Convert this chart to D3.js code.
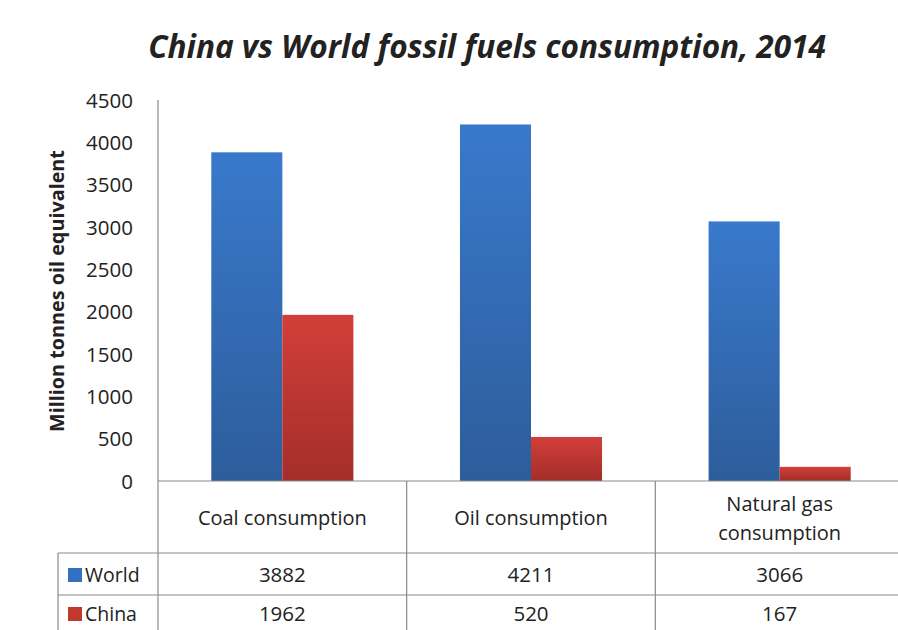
<!DOCTYPE html>
<html>
<head>
<meta charset="utf-8">
<script src="https://cdn.jsdelivr.net/npm/d3@7"></script>
<style>
  html, body { margin: 0; padding: 0; background: #fff; }
  svg { display: block; }
  text { font-family: "Open Sans", "Noto Sans", sans-serif; fill: #222; }
</style>
</head>
<body>
<svg id="chart" width="898" height="630"></svg>
<script>
// Fossil fuel consumption, 2014 (million tonnes oil equivalent)
const categories = ["Coal consumption", "Oil consumption", "Natural gas consumption"];
const categoryLines = [["Coal consumption"], ["Oil consumption"], ["Natural gas", "consumption"]];
const seriesNames = ["World", "China"];
const worldValues = [3882, 4211, 3066];
const chinaValues = [1962, 520, 167];
const yTicks = [0, 500, 1000, 1500, 2000, 2500, 3000, 3500, 4000, 4500];

const seriesValues = [worldValues, chinaValues];
const svg = d3.select("#chart");
const W = 898, H = 630;

const axisX = 158, zeroY = 481, topY = 100;
const tableLeft = 58, headerBottom = 553, rowSplit = 595;
const lineColor = "#8a8a8a";

const x = d3.scaleBand().domain(categories).range([axisX, 904]).paddingInner(0).paddingOuter(0);
const xs = d3.scaleBand().domain(seriesNames).range([0, x.bandwidth()]).paddingInner(0).paddingOuter(0.75);
const y = d3.scaleLinear().domain([0, 4500]).range([zeroY, topY]);

// Bar gradients
const defs = svg.append("defs");
const grads = [
  { id: "gWorld", top: "#3979cc", bottom: "#2d5d9b" },
  { id: "gChina", top: "#d33e39", bottom: "#a32e2a" }
];
grads.forEach(g => {
  const lg = defs.append("linearGradient").attr("id", g.id).attr("x1", 0).attr("y1", 0).attr("x2", 0).attr("y2", 1);
  lg.append("stop").attr("offset", "0%").attr("stop-color", g.top);
  lg.append("stop").attr("offset", "100%").attr("stop-color", g.bottom);
});
const fills = ["url(#gWorld)", "url(#gChina)"];
const legendFills = ["#3370bf", "#c0392f"];

// scale a text's font size so that it spans the given width
function fitWidth(sel, size, target) {
  sel.style("font-size", size + "px");
  const len = sel.node().getComputedTextLength();
  sel.style("font-size", (size * target / len).toFixed(2) + "px");
}

// Title
const title = svg.append("text")
  .attr("x", 487).attr("y", 58)
  .attr("text-anchor", "middle")
  .style("font-weight", "bold").style("font-style", "italic")
  .attr("fill", "#111")
  .text("China vs World fossil fuels consumption, 2014");
fitWidth(title, 28, 678);

// Y axis label
const yLabel = svg.append("text")
  .attr("transform", `translate(64,291) rotate(-90)`)
  .attr("text-anchor", "middle")
  .style("font-weight", "bold")
  .attr("fill", "#111")
  .text("Million tonnes oil equivalent");
fitWidth(yLabel, 16, 282);

// Y axis tick labels
const yAxis = d3.axisLeft(y).tickValues(yTicks).tickSize(0).tickPadding(0).tickFormat(d3.format("d"));
const yg = svg.append("g").attr("transform", `translate(133,0)`).call(yAxis);
yg.select(".domain").remove();
yg.selectAll("text")
  .style("font-family", "'Open Sans', sans-serif")
  .style("font-size", "20.5px").attr("fill", "#222").attr("dy", "0.35em");

// Bars
categories.forEach((c, ci) => {
  seriesNames.forEach((s, si) => {
    const v = seriesValues[si][ci];
    svg.append("rect")
      .attr("x", x(c) + xs(s))
      .attr("y", y(v))
      .attr("width", xs.bandwidth())
      .attr("height", y(0) - y(v))
      .attr("fill", fills[si]);
  });
});

// Table grid lines
const lines = svg.append("g").attr("stroke", lineColor).attr("stroke-width", 1.2);
lines.append("line").attr("x1", axisX).attr("x2", W).attr("y1", zeroY).attr("y2", zeroY);
lines.append("line").attr("x1", tableLeft).attr("x2", W).attr("y1", headerBottom).attr("y2", headerBottom);
lines.append("line").attr("x1", tableLeft).attr("x2", W).attr("y1", rowSplit).attr("y2", rowSplit);
lines.append("line").attr("x1", axisX).attr("x2", axisX).attr("y1", topY).attr("y2", H);
lines.append("line").attr("x1", tableLeft).attr("x2", tableLeft).attr("y1", headerBottom).attr("y2", H);
categories.slice(1).forEach(c => {
  lines.append("line").attr("x1", x(c)).attr("x2", x(c)).attr("y1", zeroY).attr("y2", H);
});

// Category header cells
categories.forEach((c, ci) => {
  const cx = x(c) + x.bandwidth() / 2;
  const ls = categoryLines[ci];
  const lh = 29;
  const cy = 518;
  ls.forEach((t, li) => {
    svg.append("text")
      .attr("x", cx)
      .attr("y", cy + (li - (ls.length - 1) / 2) * lh)
      .attr("dy", "0.35em")
      .attr("text-anchor", "middle")
      .style("font-size", "20px")
      .attr("fill", "#222")
      .text(t);
  });
});

// Data rows with legend keys
const rowCenters = [575, 614];
seriesNames.forEach((s, si) => {
  const cy = rowCenters[si];
  svg.append("rect")
    .attr("x", 68).attr("y", cy - 7)
    .attr("width", 14).attr("height", 14)
    .attr("fill", legendFills[si]);
  svg.append("text")
    .attr("x", 85).attr("y", cy).attr("dy", "0.35em")
    .style("font-size", "19.5px").attr("fill", "#222")
    .text(s);
  categories.forEach((c, ci) => {
    svg.append("text")
      .attr("x", x(c) + x.bandwidth() / 2)
      .attr("y", cy).attr("dy", "0.35em")
      .attr("text-anchor", "middle")
      .style("font-size", "20.5px").attr("fill", "#222")
      .text(seriesValues[si][ci]);
  });
});
</script>
</body>
</html>
